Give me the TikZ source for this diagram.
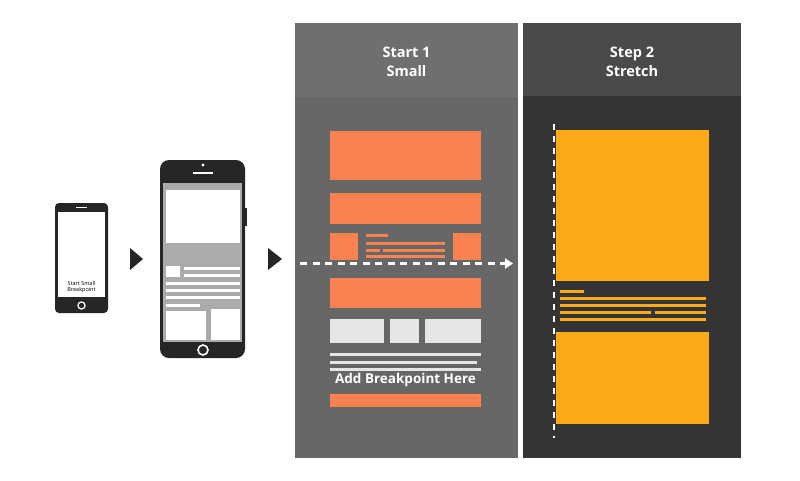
\documentclass[tikz,border=0pt]{standalone}
\usepackage{fontspec}
\setmainfont{Open Sans}
\usetikzlibrary{arrows.meta}
\definecolor{orng}{HTML}{F98250}
\definecolor{ylw}{HTML}{FDAA18}
\definecolor{ponehead}{HTML}{6F6F6F}
\definecolor{ponebody}{HTML}{676767}
\definecolor{ptwohead}{HTML}{4A4A4A}
\definecolor{ptwobody}{HTML}{343434}
\definecolor{phonebk}{HTML}{262626}
\definecolor{scrgray}{HTML}{ABABAB}
\definecolor{ltgray}{HTML}{E6E6E6}
\tikzset{
  heading/.style={text=white, font=\bfseries\fontsize{14.5}{19}\selectfont, align=center},
  oline/.style={orng, line width=3},
  yline/.style={ylw, line width=3},
  gline/.style={ltgray, line width=3},
  wline/.style={white, line width=3},
  tri/.style={fill=phonebk},
}
\begin{document}
\begin{tikzpicture}[x=1pt,y=-1pt]
\useasboundingbox[fill=white] (0,0) rectangle (800,480);

% ---------- small phone ----------
\fill[phonebk, rounded corners=4] (55,203) rectangle (108,313);
\fill[white] (58,212) rectangle (105,297);
\draw[white, line width=1.2] (76,207.5) -- (87,207.5);
\draw[white, line width=1.2] (81.5,305.5) circle (3.6);
\node[font=\fontsize{5.5}{6.5}\selectfont, align=center, inner sep=0] (smalltxt) at (81.5,287) {Start Small\\Breakpoint};

% ---------- large phone ----------
\fill[phonebk, rounded corners=9] (160,160) rectangle (245,358);
\fill[phonebk] (244,208) rectangle (246.5,226);
\fill[scrgray] (163,183) rectangle (242,342);
\fill[white] (166,190) rectangle (240,243);
\fill[white] (166,266) rectangle (180,277);
\draw[wline] (184,268.5) -- (240,268.5);
\draw[wline] (184,275) -- (240,275);
\draw[wline] (166,283) -- (240,283);
\draw[wline] (166,290) -- (240,290);
\draw[wline] (166,297.5) -- (240,297.5);
\draw[wline] (166,305) -- (200,305);
\fill[white] (166,311) rectangle (206,340);
\fill[white] (211,309) rectangle (240,340);
\fill[white] (203,165) circle (1.6);
\draw[white, line width=2] (193,173) -- (213,173);
\draw[white, line width=1.6] (203,350) circle (5);

% ---------- triangles ----------
\fill[tri] (130,248) -- (143,259) -- (130,270) -- cycle;
\fill[tri] (268,248) -- (282,259) -- (268,270) -- cycle;

% ---------- panel 1 ----------
\fill[ponebody] (295,23) rectangle (518,458);
\fill[ponehead] (295,23) rectangle (518,97);
\node[heading] (head1) at (406.5,62) {Start 1\\Small};

\fill[orng] (330,131) rectangle (481,180);
\fill[orng] (330,193) rectangle (481,224);
\fill[orng] (330,233) rectangle (358,260);
\fill[orng] (453,233) rectangle (481,260);
\draw[oline] (366,235) -- (388,235);
\draw[oline] (366,243.5) -- (445,243.5);
\draw[oline] (366,250) -- (380,250);
\draw[oline] (382.5,250) -- (445,250);
\draw[oline] (366,256.5) -- (445,256.5);
\fill[orng] (330,278) rectangle (481,308);
\fill[ltgray] (330,319) rectangle (384,343);
\fill[ltgray] (390,319) rectangle (419,343);
\fill[ltgray] (425,319) rectangle (481,343);
\draw[gline] (330,354.5) -- (481,354.5);
\draw[gline] (330,362) -- (477,362);
\draw[gline] (330,369.5) -- (481,369.5);
\node[text=white, font=\bfseries\fontsize{13.5}{16}\selectfont, inner sep=0] (bp) at (405.5,380) {Add Breakpoint Here};
\fill[orng] (330,394) rectangle (481,407);

\coordinate (arrowstart) at (300,263.5);
\coordinate (arrowend) at (513,263.5);
\draw[white, line width=2.6, dash pattern=on 7 off 5.5, -{Triangle[length=8,width=10]}] (arrowstart) -- (arrowend);

% ---------- panel 2 ----------
\fill[ptwobody] (523,23) rectangle (741,458);
\fill[ptwohead] (523,23) rectangle (741,96);
\node[heading] (head2) at (632,62) {Step 2\\Stretch};

\fill[ylw] (556,130) rectangle (709,281);
\draw[yline] (560,291) -- (584,291);
\draw[yline] (560,298) -- (706,298);
\draw[yline] (560,305) -- (706,305);
\draw[yline] (560,312) -- (651,312);
\draw[yline] (655,312) -- (706,312);
\draw[yline] (560,319) -- (706,319);
\fill[ylw] (556,332) rectangle (709,424);

\coordinate (vtop) at (554,124);
\coordinate (vbot) at (554,438);
\draw[white, line width=2.6, dash pattern=on 6 off 6] (vtop) -- (vbot);
\end{tikzpicture}
\end{document}
